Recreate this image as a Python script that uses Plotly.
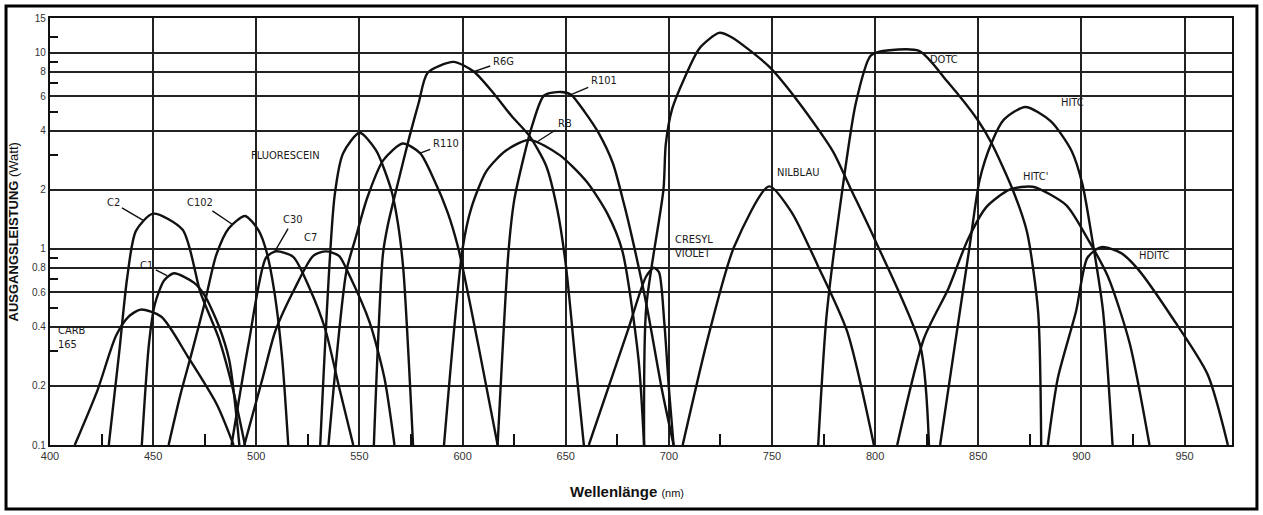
import math
import plotly.graph_objects as go

# ---- tuning curves: wavelength (nm) and output power (W) per dye ----
CARB165_NM = [412, 423, 432, 438, 444, 454, 467, 481, 489]
CARB165_W = [0.10, 0.19, 0.36, 0.45, 0.49, 0.45, 0.28, 0.16, 0.10]

C2_NM = [428.5, 433.6, 437.4, 441.6, 450.0, 464.3, 472.9, 481.8, 488.8, 494.5]
C2_W = [0.10, 0.30, 0.71, 1.23, 1.51, 1.25, 0.60, 0.35, 0.19, 0.10]

C1_NM = [444.5, 448.0, 450.8, 455.3, 460.1, 469.9, 474.9, 481.6, 486.9, 491.8]
C1_W = [0.10, 0.33, 0.52, 0.69, 0.75, 0.67, 0.58, 0.41, 0.27, 0.10]

C102_NM = [457.5, 463.2, 468.9, 475.0, 480.6, 486.6, 494.6, 501.1, 504.8, 508.7, 512.5, 515.5]
C102_W = [0.10, 0.18, 0.30, 0.53, 0.93, 1.27, 1.47, 1.24, 0.98, 0.61, 0.28, 0.10]

C30_NM = [488.0, 496.3, 504.7, 509.5, 517.9, 526.1, 533.4, 540.5, 547.0]
C30_W = [0.10, 0.33, 0.90, 0.97, 0.91, 0.62, 0.39, 0.19, 0.10]

C7_NM = [494.2, 503.1, 509.2, 518.4, 527.6, 533.8, 540.1, 545.2, 555.0, 562.1, 567.0]
C7_W = [0.10, 0.22, 0.38, 0.62, 0.92, 0.97, 0.92, 0.73, 0.42, 0.22, 0.10]

FLUO_NM = [531.0, 538.0, 542.1, 550.1, 558.0, 565.4, 568.7, 571.3, 576.0]
FLUO_W = [0.10, 1.87, 3.07, 3.90, 3.18, 2.00, 1.34, 0.78, 0.10]

R110_NM = [535.0, 543.7, 548.1, 553.8, 561.6, 571.0, 579.4, 586.0, 592.8, 598.0, 607.7, 617.0]
R110_W = [0.10, 0.77, 1.13, 1.82, 2.83, 3.44, 3.07, 2.27, 1.53, 1.00, 0.32, 0.10]

R6G_NM = [557.0, 561.4, 563.9, 568.2, 574.3, 578.7, 583.1, 595.6, 605.4, 615.3, 623.9,
          632.4, 640.5, 645.9, 650.1, 654.8, 658.8]
R6G_W = [0.10, 0.94, 1.34, 2.07, 3.74, 5.53, 7.89, 8.96, 8.00, 6.15, 4.73,
         3.76, 2.65, 1.59, 0.82, 0.26, 0.10]

RB_NM = [591.0, 600.0, 604.3, 611.5, 620.9, 632.4, 647.1, 660.1, 670.2, 677.4, 685.2, 688.0]
RB_W = [0.10, 1.00, 1.62, 2.48, 3.16, 3.59, 3.00, 2.20, 1.51, 0.98, 0.28, 0.10]

R101_NM = [617.0, 622.3, 625.0, 629.3, 633.7, 639.5, 647.7, 652.6, 659.1, 666.2, 672.9,
           678.2, 682.1, 689.3, 696.7, 702.3]
R101_W = [0.10, 0.98, 1.76, 2.83, 4.23, 6.04, 6.30, 6.10, 5.00, 3.85, 2.72,
          1.70, 1.15, 0.51, 0.19, 0.10]

CRESYL_NM = [661.2, 680.0, 688.9, 692.7, 695.2, 697.8, 700.1, 702.3]
CRESYL_W = [0.10, 0.38, 0.72, 0.80, 0.76, 0.42, 0.19, 0.10]

OXAZ_NM = [688.0, 689.0, 697.4, 698.5, 701.6, 707.5, 714.8, 724.4, 730.2, 748.5, 763.0,
           779.6, 787.8, 800.1, 821.9, 826.1]
OXAZ_W = [0.10, 0.50, 2.01, 3.40, 5.16, 7.38, 10.5, 12.6, 12.0, 8.50, 5.57,
          3.13, 2.06, 1.10, 0.32, 0.10]

NILE_NM = [706.7, 719.2, 731.6, 748.6, 759.6, 772.0, 786.4, 799.4]
NILE_W = [0.10, 0.36, 1.02, 2.08, 1.53, 0.83, 0.38, 0.10]

DOTC_NM = [772.4, 776.5, 784.0, 790.6, 797.7, 802.0, 821.3, 834.8, 849.8, 856.4, 866.7,
           873.6, 879.0, 880.5]
DOTC_W = [0.10, 0.46, 1.96, 5.50, 9.60, 10.1, 10.2, 7.16, 4.52, 3.46, 2.00,
          1.22, 0.48, 0.10]

HITC_NM = [831.5, 838.4, 845.7, 850.6, 856.4, 862.4, 872.8, 885.1, 895.2, 900.5, 905.1,
           910.4, 915.1]
HITC_W = [0.10, 0.31, 1.01, 2.23, 3.46, 4.55, 5.28, 4.47, 3.16, 2.13, 1.14, 0.49, 0.10]

HITCP_NM = [810.7, 823.7, 835.6, 844.7, 853.9, 865.2, 876.4, 892.6, 902.7, 912.9, 923.4, 933.0]
HITCP_W = [0.10, 0.35, 0.63, 1.10, 1.63, 2.00, 2.07, 1.67, 1.14, 0.72, 0.33, 0.10]

HDITC_NM = [883.7, 888.6, 897.4, 902.9, 909.6, 919.3, 927.3, 944.4, 961.1, 971.0]
HDITC_W = [0.10, 0.22, 0.48, 0.90, 1.02, 0.95, 0.79, 0.44, 0.23, 0.10]

# ---- axis ticks ----
X_TICKS = [400, 450, 500, 550, 600, 650, 700, 750, 800, 850, 900, 950]
X_MINOR = [425, 475, 525, 575, 625, 675, 725, 775, 825, 875, 925]
Y_TICKS = [0.1, 0.2, 0.4, 0.6, 0.8, 1, 2, 4, 6, 8, 10, 15]
Y_LABELS = ["0.1", "0.2", "0.4", "0.6", "0.8", "1", "2", "4", "6", "8", "10", "15"]
Y_MINOR = [0.3, 0.5, 0.7, 0.9, 3, 5, 7, 9, 12]

DYES = [
    ("CARB 165", CARB165_NM, CARB165_W),
    ("C2", C2_NM, C2_W),
    ("C1", C1_NM, C1_W),
    ("C102", C102_NM, C102_W),
    ("C30", C30_NM, C30_W),
    ("C7", C7_NM, C7_W),
    ("FLUORESCEIN", FLUO_NM, FLUO_W),
    ("R110", R110_NM, R110_W),
    ("R6G", R6G_NM, R6G_W),
    ("RB", RB_NM, RB_W),
    ("R101", R101_NM, R101_W),
    ("CRESYL VIOLET", CRESYL_NM, CRESYL_W),
    ("OXAZINE 1", OXAZ_NM, OXAZ_W),
    ("NILBLAU", NILE_NM, NILE_W),
    ("DOTC", DOTC_NM, DOTC_W),
    ("HITC", HITC_NM, HITC_W),
    ("HITC'", HITCP_NM, HITCP_W),
    ("HDITC", HDITC_NM, HDITC_W),
]

INK = "#111111"
LABEL_FONT = dict(family="Liberation Sans Narrow, DejaVu Sans Condensed, Liberation Sans, sans-serif",
                  size=11, color="#1a1a1a")

fig = go.Figure()
for name, nm, w in DYES:
    fig.add_trace(go.Scatter(
        x=nm, y=w, mode="lines", name=name, showlegend=False,
        line=dict(color=INK, width=2.4, shape="spline", smoothing=0.7),
        hovertemplate=name + "<br>%{x} nm<br>%{y} W<extra></extra>",
    ))

# dye names placed beside their curves: (text, x nm, log10 W, optional tip on curve)
curve_labels = [
    ("CARB<br>165", 403.0, -0.45, None, "left"),
    ("C2", 430.6, 0.235, (445.0, 1.40), "center"),
    ("C1", 447.0, -0.085, (456.7, 0.73), "center"),
    ("C102", 472.6, 0.237, (488.5, 1.33), "center"),
    ("C30", 517.9, 0.148, (509.0, 0.97), "center"),
    ("C7", 526.3, 0.059, None, "center"),
    ("FLUORESCEIN", 514.1, 0.474, None, "center"),
    ("R110", 591.8, 0.537, (579.4, 3.07), "center"),
    ("R6G", 619.7, 0.954, (605.4, 8.0), "center"),
    ("R101", 668.4, 0.856, (652.6, 6.1), "center"),
    ("RB", 649.6, 0.636, (636.0, 3.5), "center"),
    ("CRESYL<br>VIOLET", 702.0, 0.013, None, "left"),
    ("OXAZINE 1", 757.9, 1.20, None, "center"),
    ("NILBLAU", 762.5, 0.389, None, "center"),
    ("DOTC", 833.5, 0.966, None, "center"),
    ("HITC", 895.5, 0.745, None, "center"),
    ("HITC'", 877.7, 0.367, None, "center"),
    ("HDITC", 935.3, -0.035, None, "center"),
]

annotations = []
for text, lx, ly, tip, anchor in curve_labels:
    if tip is None:
        annotations.append(dict(x=lx, y=ly, xref="x", yref="y", text=text, showarrow=False,
                                xanchor=anchor, yanchor="middle", align="left", font=LABEL_FONT))
    else:
        annotations.append(dict(x=tip[0], y=math.log10(tip[1]), xref="x", yref="y",
                                ax=lx, ay=ly, axref="x", ayref="y", text=text,
                                showarrow=True, arrowhead=0, arrowwidth=1.4, arrowcolor=INK,
                                standoff=0, startstandoff=1, font=LABEL_FONT))

# axis titles
annotations.append(dict(x=-0.0305, y=0.5, xref="paper", yref="paper", textangle=-90,
                        xanchor="center", yanchor="middle",
                        text="<b>AUSGANGSLEISTUNG</b> (Watt)", showarrow=False,
                        font=dict(family="Liberation Sans, Arial, sans-serif", size=13, color="#111")))
annotations.append(dict(x=0.488, y=-0.11, xref="paper", yref="paper",
                        xanchor="center", yanchor="middle",
                        text="<b>Wellenlänge</b> <span style='font-size:11px'>(nm)</span>",
                        showarrow=False,
                        font=dict(family="Liberation Sans, Arial, sans-serif", size=15, color="#111")))

fig.update_layout(
    width=1263, height=515,
    margin=dict(l=50, r=31, t=18, b=70),
    paper_bgcolor="white", plot_bgcolor="white",
    showlegend=False,
    font=dict(family="Liberation Sans, Arial, sans-serif", color="#222", size=11),
    annotations=annotations,
    shapes=[dict(type="rect", xref="paper", yref="paper",
                 x0=-0.0372, x1=1.0211, y0=-0.1499, y1=1.028,
                 line=dict(color="black", width=3), layer="above")],
)

fig.update_xaxes(
    range=[400, 973], tickmode="array", tickvals=X_TICKS,
    ticks="", showgrid=True, gridcolor="#222", gridwidth=1.8,
    showline=True, linecolor=INK, linewidth=2, mirror=True, zeroline=False,
    tickfont=dict(size=11, color="#333"),
    minor=dict(tickmode="array", tickvals=X_MINOR, ticks="inside", ticklen=11,
               tickwidth=2, tickcolor=INK, showgrid=False),
)
fig.update_yaxes(
    type="log", range=[-1, math.log10(15)],
    tickmode="array", tickvals=Y_TICKS, ticktext=Y_LABELS,
    ticks="", showgrid=True, gridcolor="#222", gridwidth=1.6,
    showline=True, linecolor=INK, linewidth=2.2, mirror=True, zeroline=False,
    tickfont=dict(size=10, color="#333"),
    minor=dict(tickmode="array", tickvals=Y_MINOR, ticks="inside", ticklen=8,
               tickwidth=2, tickcolor=INK, showgrid=False),
)

fig.write_html("out.html")
